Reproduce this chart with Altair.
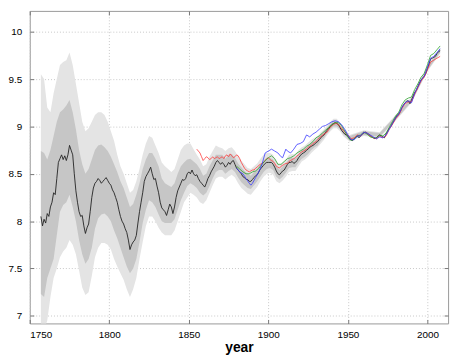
import altair as alt
import pandas as pd

# ---- black (reconstruction) series ----
black_years = list(range(1757, 2009))
black_vals = [
    8.05, 7.95, 8.02, 7.98, 8.08, 8.05, 8.15, 8.2, 8.3, 8.28,          # 1757-1766
    8.45, 8.62, 8.66, 8.7, 8.65, 8.69, 8.64, 8.7, 8.8, 8.75,           # 1767-1776
    8.7, 8.5, 8.32, 8.2, 8.1, 8.05, 8.06, 7.95, 7.87, 7.93,            # 1777-1786
    7.97, 8.1, 8.25, 8.35, 8.4, 8.42, 8.45, 8.43, 8.4, 8.42,           # 1787-1796
    8.44, 8.46, 8.43, 8.4, 8.38, 8.33, 8.3, 8.25, 8.2, 8.12,           # 1797-1806
    8.05, 8.0, 7.97, 7.92, 7.88, 7.8, 7.7, 7.75, 7.78, 7.8,            # 1807-1816
    7.85, 7.98, 8.1, 8.2, 8.3, 8.42, 8.47, 8.5, 8.53, 8.57,            # 1817-1826
    8.5, 8.44, 8.45, 8.37, 8.3, 8.2, 8.14, 8.12, 8.1, 8.06,            # 1827-1836
    8.12, 8.18, 8.15, 8.08, 8.15, 8.25, 8.32, 8.36, 8.4, 8.44,         # 1837-1846
    8.43, 8.45, 8.5, 8.52, 8.5, 8.54, 8.5, 8.48, 8.49, 8.45,           # 1847-1856
    8.42, 8.4, 8.38, 8.36, 8.4, 8.45, 8.48, 8.52, 8.55, 8.58,          # 1857-1866
    8.62, 8.64, 8.62, 8.6, 8.62, 8.6, 8.57, 8.59, 8.62, 8.6,           # 1867-1876
    8.63, 8.64, 8.6, 8.56, 8.54, 8.52, 8.5, 8.47, 8.46, 8.44,          # 1877-1886
    8.44, 8.42, 8.42, 8.44, 8.46, 8.48, 8.49, 8.52, 8.55, 8.57,        # 1887-1896
    8.59, 8.61, 8.62, 8.62, 8.62, 8.62, 8.6, 8.57, 8.53, 8.5,          # 1897-1906
    8.49, 8.51, 8.53, 8.54, 8.57, 8.6, 8.62, 8.62, 8.63, 8.61,         # 1907-1916
    8.62, 8.64, 8.67, 8.69, 8.71, 8.72, 8.73, 8.75, 8.76, 8.78,        # 1917-1926
    8.79, 8.8, 8.81, 8.83, 8.84, 8.86, 8.88, 8.9, 8.91, 8.94,          # 1927-1936
    8.96, 8.98, 9.0, 9.02, 9.03, 9.04, 9.03, 9.02, 8.99, 8.96,         # 1937-1946
    8.94, 8.92, 8.91, 8.9, 8.87, 8.86, 8.85, 8.87, 8.89, 8.9,          # 1947-1956
    8.88, 8.9, 8.92, 8.93, 8.94, 8.93, 8.92, 8.9, 8.89, 8.88,          # 1957-1966
    8.87, 8.88, 8.9, 8.91, 8.9, 8.89, 8.88, 8.92, 8.95, 8.98,          # 1967-1976
    9.0, 9.03, 9.06, 9.09, 9.12, 9.13, 9.16, 9.2, 9.23, 9.25,          # 1977-1986
    9.27, 9.27, 9.24, 9.28, 9.32, 9.36, 9.38, 9.42, 9.46, 9.49,        # 1987-1996
    9.51, 9.53, 9.56, 9.61, 9.66, 9.71, 9.72, 9.73, 9.74, 9.77,        # 1997-2006
    9.79, 9.8,                                                          # 2007-2008
]

# ---- red series ----
red_years = list(range(1855, 1948)) + list(range(1948, 2009, 2))
red_vals = [
    8.76, 8.74, 8.72, 8.68, 8.64, 8.66, 8.68, 8.67, 8.65, 8.66,        # 1855-1864
    8.68, 8.66, 8.67, 8.68, 8.66, 8.67, 8.68, 8.66, 8.69, 8.7,         # 1865-1874
    8.68, 8.71, 8.69, 8.67, 8.68, 8.7, 8.69, 8.66, 8.62, 8.59,         # 1875-1884
    8.56, 8.54, 8.53, 8.52, 8.53, 8.54, 8.54, 8.56, 8.57, 8.59,        # 1885-1894
    8.6, 8.61, 8.62, 8.64, 8.66, 8.67, 8.65, 8.64, 8.63, 8.61,         # 1895-1904
    8.58, 8.57, 8.56, 8.58, 8.59, 8.6, 8.61, 8.61, 8.63, 8.64,         # 1905-1914
    8.65, 8.66, 8.67, 8.69, 8.7, 8.72, 8.73, 8.74, 8.75, 8.76,         # 1915-1924
    8.78, 8.79, 8.8, 8.82, 8.83, 8.84, 8.86, 8.88, 8.89, 8.91,         # 1925-1934
    8.92, 8.93, 8.94, 8.97, 8.99, 9.01, 9.02, 9.03, 9.03, 9.02,        # 1935-1944
    9.0, 8.98, 8.96,                                                    # 1945-1947
    8.94, 8.91, 8.87, 8.88, 8.91, 8.9, 8.94, 8.93, 8.9, 8.88,          # 1948-1966
    8.87, 8.9, 8.88, 8.9, 8.97, 9.02, 9.08, 9.12, 9.19, 9.24,          # 1968-1986
    9.26, 9.26, 9.34, 9.41, 9.48, 9.52, 9.6, 9.68, 9.7, 9.72,          # 1988-2006
    9.74,                                                               # 2008
]

# ---- green series ----
green_years = list(range(1880, 1948, 2)) + list(range(1948, 2009, 2))
green_vals = [
    8.58, 8.55, 8.52, 8.5, 8.5, 8.52, 8.53, 8.56, 8.6, 8.64,           # 1880-1898
    8.67, 8.69, 8.66, 8.6, 8.6, 8.63, 8.66, 8.67, 8.69, 8.72,          # 1900-1918
    8.74, 8.76, 8.79, 8.81, 8.84, 8.88, 8.9, 8.93, 8.96, 8.99,         # 1920-1938
    9.02, 9.04, 9.04, 9.01,                                             # 1940-1946
    8.95, 8.89, 8.85, 8.87, 8.9, 8.91, 8.94, 8.92, 8.89, 8.88,         # 1948-1966
    8.88, 8.91, 8.9, 8.93, 8.99, 9.05, 9.11, 9.15, 9.23, 9.28,         # 1968-1986
    9.3, 9.31, 9.39, 9.45, 9.52, 9.56, 9.65, 9.75, 9.77, 9.81,         # 1988-2006
    9.85,                                                               # 2008
]

# ---- blue series ----
blue_years = [1880, 1882, 1884, 1886, 1888, 1889, 1890, 1892, 1894, 1896,
              1898, 1900, 1902, 1904, 1906, 1908, 1909, 1911, 1912, 1914,
              1916, 1918, 1920, 1922, 1924, 1926, 1928, 1930, 1932, 1934,
              1936, 1938, 1940, 1942, 1944, 1946] + list(range(1948, 2009, 2))
blue_vals = [
    8.56, 8.52, 8.5, 8.45, 8.4, 8.38, 8.4, 8.46, 8.52, 8.6,
    8.72, 8.74, 8.76, 8.74, 8.72, 8.68, 8.67, 8.76, 8.74, 8.72,
    8.76, 8.81, 8.82, 8.84, 8.91, 8.89, 8.92, 8.94, 8.97, 9.0,
    9.01, 9.03, 9.05, 9.06, 9.05, 9.02,
    8.97, 8.91, 8.86, 8.86, 8.9, 8.9, 8.94, 8.93, 8.91, 8.89,          # 1948-1966
    8.87, 8.89, 8.88, 8.91, 8.97, 9.03, 9.09, 9.13, 9.2, 9.25,         # 1968-1986
    9.27, 9.25, 9.35, 9.42, 9.49, 9.53, 9.62, 9.72, 9.74, 9.78,        # 1988-2006
    9.82,                                                               # 2008
]

# ---- uncertainty bands ----
band_years = [1757, 1759, 1761, 1763, 1765, 1767, 1769, 1771, 1773, 1775,
              1777, 1779, 1781, 1783, 1785, 1787, 1789, 1791, 1793, 1795,
              1797, 1799, 1801, 1803, 1805, 1807, 1809, 1811, 1813, 1815,
              1817, 1819, 1821, 1823, 1825, 1827, 1829, 1831, 1833, 1835,
              1837, 1839, 1841, 1843, 1845, 1847, 1849, 1851, 1853, 1855,
              1857, 1859, 1861, 1863, 1865, 1867, 1869, 1871, 1873, 1875,
              1877, 1879, 1881, 1883, 1885, 1887, 1889, 1891, 1893, 1895,
              1897, 1899, 1901, 1903, 1905, 1907, 1909, 1911, 1913, 1915,
              1917, 1919, 1921, 1923, 1925, 1927, 1929, 1931, 1933, 1935,
              1937, 1939, 1941, 1943, 1945, 1947, 1949, 1951, 1960, 1970,
              1980, 1990, 2000, 2008]
light_lo = [6.85, 6.85, 6.95, 7.2, 7.4, 7.5, 7.62, 7.68, 7.72, 7.8,
            7.75, 7.65, 7.48, 7.3, 7.22, 7.25, 7.42, 7.62, 7.72, 7.77,
            7.77, 7.75, 7.7, 7.6, 7.52, 7.45, 7.38, 7.28, 7.2, 7.28,
            7.4, 7.6, 7.78, 7.95, 8.05, 8.05, 8.0, 7.93, 7.88, 7.85,
            7.85, 7.85, 7.9, 8.0, 8.1, 8.2, 8.25, 8.3, 8.28, 8.25,
            8.2, 8.18, 8.22, 8.3, 8.38, 8.45, 8.47, 8.47, 8.44, 8.47,
            8.49, 8.46, 8.4, 8.35, 8.32, 8.29, 8.28, 8.32, 8.36, 8.42,
            8.47, 8.5, 8.51, 8.49, 8.42, 8.4, 8.43, 8.47, 8.52, 8.53,
            8.53, 8.58, 8.63, 8.65, 8.68, 8.72, 8.75, 8.78, 8.82, 8.86,
            8.91, 8.95, 8.98, 8.98, 8.95, 8.9, 8.87, 8.84, 8.9, 8.88,
            9.06, 9.25, 9.58, 9.77]
dark_lo = [7.23, 7.2, 7.4, 7.5, 7.6, 7.85, 8.1, 8.17, 8.2, 8.28,
           8.15, 8.0, 7.8, 7.65, 7.55, 7.6, 7.72, 7.92, 8.03, 8.07,
           8.08, 8.05, 8.0, 7.9, 7.82, 7.72, 7.62, 7.52, 7.45, 7.5,
           7.6, 7.78, 7.98, 8.12, 8.22, 8.2, 8.15, 8.07, 8.0, 7.98,
           7.98, 7.98, 8.02, 8.12, 8.22, 8.3, 8.37, 8.4, 8.38, 8.35,
           8.3, 8.27, 8.3, 8.37, 8.45, 8.52, 8.54, 8.54, 8.5, 8.53,
           8.55, 8.52, 8.46, 8.41, 8.38, 8.35, 8.34, 8.38, 8.42, 8.47,
           8.52, 8.55, 8.56, 8.54, 8.47, 8.44, 8.47, 8.51, 8.56, 8.57,
           8.57, 8.62, 8.66, 8.68, 8.71, 8.75, 8.78, 8.8, 8.85, 8.88,
           8.93, 8.97, 9.0, 9.0, 8.97, 8.92, 8.89, 8.85, 8.91, 8.89,
           9.07, 9.26, 9.59, 9.78]
dark_hi = [8.74, 8.72, 8.65, 8.75, 8.9, 9.05, 9.15, 9.18, 9.22, 9.28,
           9.15, 8.97, 8.75, 8.6, 8.5, 8.55, 8.65, 8.75, 8.8, 8.81,
           8.78, 8.74, 8.68, 8.6, 8.52, 8.42, 8.35, 8.25, 8.15, 8.18,
           8.28, 8.4, 8.55, 8.65, 8.72, 8.72, 8.66, 8.58, 8.45, 8.4,
           8.38, 8.36, 8.4, 8.5, 8.58, 8.62, 8.65, 8.66, 8.63, 8.6,
           8.55, 8.48, 8.5, 8.58, 8.64, 8.7, 8.7, 8.7, 8.66, 8.7,
           8.71, 8.67, 8.61, 8.57, 8.53, 8.5, 8.48, 8.52, 8.55, 8.6,
           8.64, 8.67, 8.67, 8.65, 8.58, 8.54, 8.58, 8.61, 8.66, 8.67,
           8.66, 8.71, 8.75, 8.77, 8.8, 8.83, 8.85, 8.88, 8.92, 8.95,
           8.99, 9.03, 9.06, 9.06, 9.02, 8.97, 8.94, 8.9, 8.95, 8.93,
           9.11, 9.3, 9.63, 9.82]
light_hi = [9.55, 9.5, 9.2, 9.15, 9.35, 9.5, 9.65, 9.68, 9.7, 9.78,
            9.65, 9.45, 9.25, 9.05, 8.95, 8.98, 9.05, 9.12, 9.15, 9.15,
            9.12, 9.05, 8.95, 8.85, 8.7, 8.58, 8.5, 8.4, 8.3, 8.33,
            8.42, 8.55, 8.7, 8.82, 8.9, 8.88, 8.8, 8.72, 8.62, 8.58,
            8.55, 8.52, 8.55, 8.65, 8.75, 8.8, 8.82, 8.82, 8.76, 8.7,
            8.65, 8.58, 8.6, 8.68, 8.74, 8.8, 8.78, 8.77, 8.74, 8.77,
            8.78, 8.74, 8.68, 8.64, 8.6, 8.56, 8.55, 8.58, 8.61, 8.66,
            8.7, 8.72, 8.72, 8.7, 8.63, 8.59, 8.62, 8.65, 8.7, 8.71,
            8.7, 8.75, 8.78, 8.8, 8.83, 8.86, 8.88, 8.9, 8.94, 8.97,
            9.01, 9.05, 9.08, 9.08, 9.04, 8.99, 8.96, 8.91, 8.96, 8.94,
            9.12, 9.31, 9.64, 9.83]

x_ticks = [1750, 1800, 1850, 1900, 1950, 2000]
y_ticks = [7, 7.5, 8, 8.5, 9, 9.5, 10]

# ---- tables ----
band_df = pd.DataFrame({"year": band_years, "llo": light_lo, "lhi": light_hi,
                        "dlo": dark_lo, "dhi": dark_hi})
black_df = pd.DataFrame({"year": black_years, "v": black_vals})
red_df = pd.DataFrame({"year": red_years, "v": red_vals})
green_df = pd.DataFrame({"year": green_years, "v": green_vals})
blue_df = pd.DataFrame({"year": blue_years, "v": blue_vals})

xs = alt.Scale(domain=[1750, 2013], nice=False, zero=False)
ys = alt.Scale(domain=[6.92, 10.22], nice=False, zero=False)

FONT = "Liberation Sans"
common = dict(gridDash=[1, 2], gridColor="#bbbbbb", gridWidth=0.8,
              domain=False, tickColor="#777777", tickSize=4, tickWidth=1,
              offset=-4, labelFontSize=10, labelFont=FONT, labelColor="black")

x_axis = alt.Axis(values=x_ticks, format="d", title="year", grid=True,
                  titleFont=FONT, titleFontSize=14, titleFontWeight="bold",
                  titleColor="black", titlePadding=1, labelPadding=6, **common)
y_axis = alt.Axis(values=y_ticks, format="~g", title=None, grid=True,
                  labelPadding=8, **common)
x_top = alt.Axis(values=x_ticks, orient="top", labels=False, title=None,
                 grid=False, **common)
y_right = alt.Axis(values=y_ticks, orient="right", labels=False, title=None,
                   grid=False, **common)

light = alt.Chart(band_df).mark_area(color="#e4e4e4", clip=True, opacity=1).encode(
    x=alt.X("year:Q", scale=xs, axis=x_axis),
    y=alt.Y("llo:Q", scale=ys, axis=y_axis),
    y2="lhi:Q",
)
dark = alt.Chart(band_df).mark_area(color="#c6c6c6", clip=True, opacity=1).encode(
    x=alt.X("year:Q", scale=xs, axis=x_top),
    y=alt.Y("dlo:Q", scale=ys, axis=y_right),
    y2="dhi:Q",
)


def line(df, color, width):
    return alt.Chart(df).mark_line(color=color, strokeWidth=width, clip=True).encode(
        x=alt.X("year:Q", scale=xs, axis=None),
        y=alt.Y("v:Q", scale=ys, axis=None),
    )


chart = alt.layer(
    light, dark,
    line(black_df, "#222222", 0.9),
    line(red_df, "#ff3b3b", 0.8),
    line(green_df, "#2ca02c", 0.8),
    line(blue_df, "#3a3aff", 0.8),
).resolve_axis(
    x="independent", y="independent"
).properties(
    width=423, height=316, padding={"left": 0, "top": 0, "right": 8, "bottom": 0}
).configure_view(
    stroke="#999999", strokeWidth=1
)

chart.save("out.html", embed_options={"renderer": "svg", "actions": False})
